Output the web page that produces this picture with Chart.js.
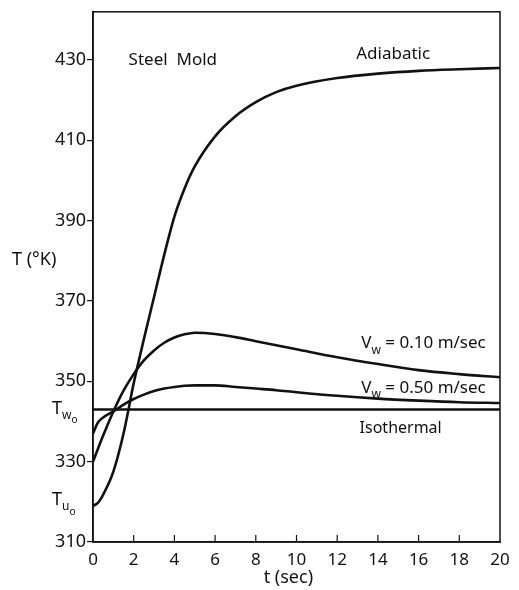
<!DOCTYPE html>
<html>
<head>
<meta charset="utf-8">
<script src="https://cdn.jsdelivr.net/npm/chart.js@4.4.0/dist/chart.umd.min.js"></script>
<style>
  html, body { margin: 0; padding: 0; background: #fff; }
  #wrap { width: 519px; height: 590px; }
</style>
</head>
<body>
<div id="wrap"><canvas id="chart" width="519" height="590"></canvas></div>
<script>
// time grid (sec) shared by all curves
const timeSec = [0, 0.25, 0.5, 1, 1.5, 2, 2.5, 3, 3.5, 4, 4.5, 5, 6, 7, 8, 9, 10, 12, 14, 16, 18, 20];

// temperatures (K)
const adiabatic = [319, 319.8, 321.8, 327.5, 337, 349.5, 360.5, 371, 381.5, 391, 398, 403.5, 411, 416, 419.5, 422, 423.6, 425.5, 426.6, 427.3, 427.7, 428];
const vw010 = [330, 333.3, 336.5, 342.5, 347.7, 351.8, 355.2, 357.7, 359.6, 360.9, 361.7, 362.1, 361.8, 361, 360, 359, 358, 356, 354.3, 352.8, 351.8, 351];
const vw050 = [337, 339.8, 341, 342.5, 344.2, 345.6, 346.7, 347.6, 348.2, 348.6, 348.9, 349, 349, 348.6, 348.2, 347.8, 347.3, 346.4, 345.7, 345.2, 344.8, 344.6];
const isothermal = timeSec.map(() => 343);

const xTicks = [0, 2, 4, 6, 8, 10, 12, 14, 16, 18, 20];
const yTicks = [310, 330, 350, 370, 390, 410, 430];
const tw0 = 343;
const tu0 = 320.5;

const INK = '#111';
const FONT = '"Noto Sans", "DejaVu Sans", sans-serif';

function toPoints(ys) {
    return timeSec.map((t, i) => ({ x: t, y: ys[i] }));
}

function lineSet(label, ys) {
    return {
        label: label,
        data: toPoints(ys),
        borderColor: INK,
        borderWidth: 2.6,
        pointRadius: 0,
        fill: false,
        cubicInterpolationMode: 'monotone',
    };
}

// draw text pieces with subscripts, e.g. V_w
function drawParts(ctx, parts, x, y, align) {
    let total = 0;
    parts.forEach(p => {
        ctx.font = p.size + 'px ' + FONT;
        p.w = ctx.measureText(p.text).width;
        total += p.w;
    });
    let cx = align === 'right' ? x - total : (align === 'center' ? x - total / 2 : x);
    ctx.textAlign = 'left';
    ctx.textBaseline = 'middle';
    parts.forEach(p => {
        ctx.font = p.size + 'px ' + FONT;
        ctx.fillText(p.text, cx, y + (p.dy || 0));
        cx += p.w;
    });
}

const annotations = {
    id: 'annotations',
    afterDatasetsDraw(chart) {
        const ctx = chart.ctx;
        const xs = chart.scales.x;
        const ys = chart.scales.y;
        const area = chart.chartArea;
        ctx.save();

        // frame on top and right
        ctx.strokeStyle = INK;
        ctx.lineWidth = 1.5;
        ctx.strokeRect(area.left, area.top, area.right - area.left, area.bottom - area.top);

        // inward x tick marks
        ctx.lineWidth = 1.2;
        xTicks.forEach(v => {
            if (v === 0 || v === 20) return;
            const px = xs.getPixelForValue(v);
            ctx.beginPath();
            ctx.moveTo(px, area.bottom);
            ctx.lineTo(px, area.bottom - 7);
            ctx.stroke();
        });

        ctx.fillStyle = INK;
        drawParts(ctx, [{ text: 'Steel  Mold', size: 17 }], xs.getPixelForValue(1.75), ys.getPixelForValue(430), 'left');
        drawParts(ctx, [{ text: 'Adiabatic', size: 17 }], xs.getPixelForValue(14.75), ys.getPixelForValue(431.5), 'center');
        drawParts(ctx, [
            { text: 'V', size: 17 },
            { text: 'w', size: 12, dy: 7 },
            { text: ' = 0.10 m/sec', size: 17 },
        ], xs.getPixelForValue(19.3), ys.getPixelForValue(359.5), 'right');
        drawParts(ctx, [
            { text: 'V', size: 17 },
            { text: 'w', size: 12, dy: 7 },
            { text: ' = 0.50 m/sec', size: 17 },
        ], xs.getPixelForValue(19.3), ys.getPixelForValue(348.4), 'right');
        drawParts(ctx, [{ text: 'Isothermal', size: 16 }], xs.getPixelForValue(13.1), ys.getPixelForValue(338.3), 'left');

        // axis-side labels
        drawParts(ctx, [{ text: 'T (°K)', size: 18 }], 12, ys.getPixelForValue(380.3), 'left');
        drawParts(ctx, [
            { text: 'T', size: 18 },
            { text: 'w', size: 12, dy: 7 },
            { text: 'o', size: 10, dy: 12 },
        ], 52, ys.getPixelForValue(tw0 + 0.2), 'left');
        drawParts(ctx, [
            { text: 'T', size: 18 },
            { text: 'u', size: 12, dy: 7 },
            { text: 'o', size: 10, dy: 12 },
        ], 52, ys.getPixelForValue(tu0), 'left');
        drawParts(ctx, [{ text: 't (sec)', size: 18 }], xs.getPixelForValue(9.6), 578, 'center');

        ctx.restore();
    }
};

new Chart(document.getElementById('chart'), {
    type: 'line',
    data: {
        datasets: [
            lineSet('Adiabatic', adiabatic),
            lineSet('Vw = 0.10 m/sec', vw010),
            lineSet('Vw = 0.50 m/sec', vw050),
            lineSet('Isothermal', isothermal),
        ],
    },
    options: {
        responsive: false,
        devicePixelRatio: 1,
        animation: false,
        layout: { padding: { top: 9, right: 19, left: 0, bottom: 0 } },
        plugins: {
            legend: { display: false },
            tooltip: { enabled: false },
        },
        scales: {
            x: {
                type: 'linear',
                min: 0,
                max: 20,
                afterFit(scale) { scale.height = 48; },
                afterBuildTicks(scale) { scale.ticks = xTicks.map(v => ({ value: v })); },
                grid: { display: false },
                border: { color: INK, width: 1.5 },
                ticks: {
                    color: INK,
                    padding: 0,
                    maxRotation: 0,
                    font: { family: FONT, size: 17 },
                },
            },
            y: {
                type: 'linear',
                min: 310,
                max: 442,
                afterFit(scale) { scale.width = 93; },
                afterBuildTicks(scale) { scale.ticks = yTicks.map(v => ({ value: v })); },
                grid: { drawOnChartArea: false, tickLength: 6, color: INK, lineWidth: 1.2 },
                border: { color: INK, width: 1.5 },
                ticks: {
                    color: INK,
                    padding: 1,
                    font: { family: FONT, size: 18 },
                },
            },
        },
    },
    plugins: [annotations],
});
</script>
</body>
</html>
